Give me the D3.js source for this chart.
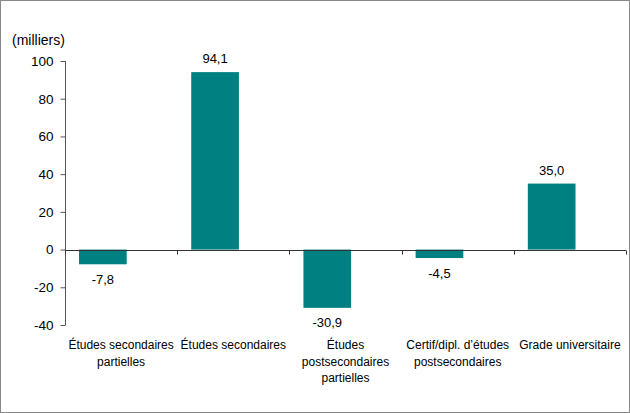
<!DOCTYPE html>
<html><head><meta charset="utf-8">
<script src="https://cdn.jsdelivr.net/npm/d3@7"></script>
<style>body{margin:0;background:#fff}svg{display:block}text{font-family:"Liberation Sans",Arial,sans-serif;font-size:12px;fill:#000}</style>
</head><body>
<script>
const categories = [["Études secondaires","partielles"],["Études secondaires"],["Études","postsecondaires","partielles"],["Certif/dipl. d’études","postsecondaires"],["Grade universitaire"]];
const values = [-7.8, 94.1, -30.9, -4.5, 35.0];
const valueLabels = ["-7,8","94,1","-30,9","-4,5","35,0"];
const yTicks = [-40,-20,0,20,40,60,80,100];

(function(){
const W=630,H=413;
const svg=d3.select("body").append("svg").attr("width",W).attr("height",H);
svg.append("rect").attr("x",0.5).attr("y",0.5).attr("width",W-1).attr("height",H-1).attr("fill","#fff").attr("stroke","#888");

const pL=65,pR=626,pT=61,pB=325;
const y=d3.scaleLinear().domain([-40,100]).range([pB,pT]);
const x=d3.scaleBand().domain(d3.range(categories.length)).range([pL,pR]).padding(0);
const bw=x.bandwidth();
const barOff=bw*0.125, barW=bw*0.425;

// y axis
const ya=svg.append("g").attr("transform",`translate(${pL+0.5},0)`)
  .call(d3.axisLeft(y).tickValues(yTicks).tickSize(5).tickPadding(7).tickFormat(d=>d));
ya.select("path.domain").attr("stroke","#555").attr("d",`M0,${pT}V${pB}`);
ya.selectAll("line").attr("stroke","#555");
ya.selectAll("text").style("font-family","Liberation Sans, Arial, sans-serif").style("font-size","13.5px").attr("fill","#000");

// bars
svg.selectAll("rect.bar").data(values).join("rect").attr("class","bar")
  .attr("x",(d,i)=>x(i)+barOff).attr("width",barW)
  .attr("y",d=>y(Math.max(0,d))).attr("height",d=>Math.abs(y(d)-y(0)))
  .attr("fill","#008080");

// x axis line at 0
const y0=Math.round(y(0))+0.5;
svg.append("line").attr("x1",pL).attr("x2",pR).attr("y1",y0).attr("y2",y0).attr("stroke","#333");
const bounds=d3.range(categories.length+1).map(i=>pL+i*bw);
svg.selectAll("line.xt").data(bounds).join("line").attr("class","xt")
  .attr("x1",d=>Math.round(d)+0.5).attr("x2",d=>Math.round(d)+0.5).attr("y1",y0).attr("y2",y0+4).attr("stroke","#333");

// value labels
svg.selectAll("text.val").data(values).join("text").attr("class","val")
  .attr("x",(d,i)=>x(i)+barOff+barW/2)
  .attr("y",d=>d>=0? y(d)-9 : y(d)+19.5)
  .style("font-size","13px")
  .attr("text-anchor","middle").text((d,i)=>valueLabels[i]);

// category labels
categories.forEach((lines,i)=>{
  const t=svg.append("text").attr("text-anchor","middle").attr("x",x(i)+bw/2).attr("y",349);
  lines.forEach((l,j)=>t.append("tspan").attr("x",x(i)+bw/2).attr("dy",j?16.5:0).text(l));
});

svg.append("text").attr("x",12).attr("y",45).style("font-size","14px").text("(milliers)");
})();
</script>
</body></html>
